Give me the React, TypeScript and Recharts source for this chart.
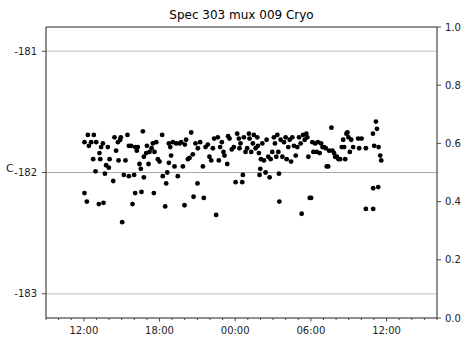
import { ScatterChart, Scatter, XAxis, YAxis, ReferenceLine } from 'recharts'

// hour since midnight of day 1 (24+ = next day), temperature in C
const EARLY: [number, number][] = [
  [12.05, -182.17], [12.24, -182.24], [12.05, -181.75], [12.32, -181.69], [12.40, -181.78],
  [12.58, -181.75], [12.79, -181.69], [12.98, -181.75], [12.74, -181.89], [12.93, -181.99],
  [13.19, -182.26], [13.56, -182.25], [13.24, -181.84], [13.30, -181.89], [13.37, -181.79],
  [13.51, -181.76], [13.67, -182.01], [13.77, -181.94], [13.90, -181.79], [14.04, -181.89],
  [13.98, -181.96], [14.33, -182.07], [14.43, -181.71], [14.56, -181.82], [14.70, -181.75],
  [14.88, -181.73], [14.75, -181.90], [14.93, -181.71], [15.04, -182.41], [15.17, -182.02],
  [15.30, -181.90], [15.46, -181.69], [15.57, -181.78], [15.57, -182.03], [15.75, -181.78],
  [15.86, -182.26], [15.99, -182.02], [16.07, -182.17], [16.07, -181.79], [16.20, -181.82],
  [16.28, -181.79], [16.41, -181.93], [16.52, -181.97], [16.57, -182.16], [16.68, -181.66],
  [16.76, -182.04], [16.76, -181.87], [16.94, -181.84], [17.00, -181.78], [17.13, -181.93],
  [17.21, -181.83], [17.37, -181.80], [17.47, -181.76], [17.55, -182.17], [17.60, -181.83],
  [17.74, -181.75], [17.87, -181.89],
]

const EVENING: [number, number][] = [
  [18.00, -181.91], [18.21, -181.69], [18.26, -182.03], [18.45, -182.28], [18.53, -182.09],
  [18.61, -182.00], [18.74, -181.92], [18.74, -181.76], [18.85, -181.79], [18.92, -181.86],
  [19.06, -181.75], [19.19, -181.95], [19.32, -181.76], [19.45, -182.03], [19.59, -181.76],
  [19.72, -181.75], [19.85, -181.95], [19.98, -182.27], [20.01, -181.77], [20.11, -181.73],
  [20.25, -181.89], [20.38, -181.88], [20.51, -181.67], [20.64, -181.85], [20.70, -182.20],
  [20.85, -181.76], [21.01, -182.09], [21.04, -181.80], [21.22, -181.75], [21.44, -181.95],
  [21.51, -182.21], [21.65, -181.79], [21.83, -181.77], [21.96, -181.87], [22.10, -181.90],
  [22.23, -181.80], [22.33, -181.72], [22.49, -182.35], [22.62, -181.71], [22.70, -181.90],
  [22.81, -181.79], [22.94, -181.75], [23.07, -181.83], [23.15, -181.86], [23.37, -181.93],
  [23.44, -181.70], [23.55, -181.72], [23.73, -181.81], [23.89, -181.79],
]

const NIGHT: [number, number][] = [
  [24.03, -182.08], [24.16, -181.68], [24.29, -181.72], [24.34, -181.80], [24.42, -181.76],
  [24.56, -182.08], [24.61, -182.02], [24.69, -181.71], [24.82, -181.83], [24.95, -181.80],
  [25.09, -181.68], [25.14, -181.72], [25.27, -181.83], [25.40, -181.76], [25.48, -181.69],
  [25.62, -181.80], [25.75, -181.71], [25.80, -181.78], [25.88, -181.84], [25.93, -182.02],
  [25.99, -181.97], [26.04, -181.89], [26.15, -181.76], [26.28, -181.90], [26.41, -182.00],
  [26.49, -181.73], [26.62, -181.87], [26.73, -182.04], [26.81, -181.89], [26.94, -181.83],
  [27.07, -181.71], [27.15, -181.76], [27.26, -181.87], [27.34, -181.69], [27.42, -181.83],
  [27.47, -182.01], [27.50, -182.24], [27.60, -181.73], [27.74, -181.87], [27.87, -181.75],
  [28.00, -181.71], [28.08, -181.89], [28.21, -181.79], [28.32, -181.73], [28.43, -181.91],
  [28.53, -181.71], [28.66, -181.78], [28.80, -181.86], [28.93, -181.79], [29.06, -181.71],
  [29.19, -181.76], [29.27, -182.34], [29.38, -181.69], [29.51, -181.73], [29.64, -181.68],
  [29.72, -181.71], [29.80, -181.87], [29.91, -182.21],
]

const MORNING: [number, number][] = [
  [30.02, -182.21], [30.12, -181.75], [30.20, -181.83], [30.34, -181.76], [30.46, -181.83],
  [30.55, -181.75], [30.70, -181.84], [30.81, -181.76], [30.92, -181.79], [31.05, -181.79],
  [31.18, -181.80], [31.26, -181.95], [31.37, -181.95], [31.45, -181.82], [31.63, -181.63],
  [31.71, -181.82], [31.84, -181.84], [31.92, -181.87], [32.06, -181.87], [32.19, -181.89],
  [32.32, -181.89], [32.45, -181.79], [32.56, -181.73], [32.64, -181.79], [32.72, -181.89],
  [32.82, -181.68], [32.90, -181.67], [32.98, -181.71], [33.09, -181.83], [33.20, -181.73],
  [33.35, -181.79], [33.75, -181.72], [33.83, -181.80], [34.02, -181.72], [34.36, -181.80],
  [34.36, -182.30], [34.92, -181.68], [34.94, -182.30], [34.94, -182.13], [35.02, -181.78],
  [35.16, -181.58], [35.24, -181.64], [35.34, -182.12], [35.37, -181.79], [35.50, -181.86],
  [35.58, -181.90],
]

const HOUR_TICKS = Array.from({ length: 32 }, (_, i) => 9 + i)
const LEFT_TICKS = [-183, -182, -181]
const RIGHT_TICKS = [0, 0.2, 0.4, 0.6, 0.8, 1.0]

const points = [...EARLY, ...EVENING, ...NIGHT, ...MORNING].map(([t, v]) => ({ t, v }))

const FONT = '"DejaVu Sans", sans-serif'
const INK = '#222'

function HourTick(props: any) {
  const { x, y, payload } = props
  const h = payload.value as number
  const major = h % 6 === 0
  const label = String(h % 24).padStart(2, '0') + ':00'
  return (
    <g>
      <line x1={x} y1={y} x2={x} y2={y + (major ? 3.5 : 2)} stroke={INK} strokeWidth={0.8} />
      {major && (
        <text x={x} y={y + 16} textAnchor="middle" fontSize={10} fontFamily={FONT} fill={INK}>
          {label}
        </text>
      )}
    </g>
  )
}

export default function App() {
  return (
    <div style={{ position: 'absolute', left: 0, top: 0, width: 466, height: 343, background: '#fff' }}>
      <ScatterChart width={466} height={343} margin={{ top: 27, right: 0, bottom: 0, left: 6 }}>
        <XAxis
          dataKey="t"
          type="number"
          domain={[9, 40]}
          ticks={HOUR_TICKS}
          interval={0}
          tick={<HourTick />}
          tickSize={0}
          tickMargin={0}
          tickLine={false}
          height={25}
          axisLine={{ stroke: INK, strokeWidth: 1 }}
        />
        <YAxis
          yAxisId="left"
          dataKey="v"
          type="number"
          domain={[-183.2, -180.8]}
          ticks={LEFT_TICKS}
          interval={0}
          width={40}
          tickSize={4}
          tickMargin={5}
          tickLine={{ stroke: INK, strokeWidth: 0.8 }}
          axisLine={{ stroke: INK, strokeWidth: 1 }}
          tick={{ fontSize: 10, fontFamily: FONT, fill: INK }}
          allowDataOverflow
        />
        <YAxis
          yAxisId="right"
          orientation="right"
          type="number"
          domain={[0, 1]}
          ticks={RIGHT_TICKS}
          interval={0}
          width={29}
          tickSize={4}
          tickMargin={4}
          tickFormatter={(v: number) => v.toFixed(1)}
          tickLine={{ stroke: INK, strokeWidth: 0.8 }}
          axisLine={{ stroke: INK, strokeWidth: 1 }}
          tick={{ fontSize: 10, fontFamily: FONT, fill: INK, textAnchor: 'start' }}
          allowDataOverflow
        />
        <ReferenceLine yAxisId="left" y={-181} stroke="#d6d6d6" strokeWidth={1.6} />
        <ReferenceLine yAxisId="left" y={-183} stroke="#d6d6d6" strokeWidth={1.6} />
        <ReferenceLine yAxisId="left" y={-182} stroke="#a8a8a8" strokeWidth={1} />
        <ReferenceLine yAxisId="left" y={-180.8} stroke={INK} strokeWidth={1} />
        <Scatter
          yAxisId="left"
          data={points}
          isAnimationActive={false}
          shape={(p: any) => <circle cx={p.cx} cy={p.cy} r={2.4} fill="#000" />}
        />
      </ScatterChart>
      <svg width={466} height={343} style={{ position: 'absolute', left: 0, top: 0, pointerEvents: 'none' }}>
        <text x={241.5} y={19} textAnchor="middle" fontSize={12} fontFamily={FONT} fill="#000">
          Spec 303 mux 009 Cryo
        </text>
        <text x={6} y={172} fontSize={11} fontFamily={FONT} fill={INK}>
          C
        </text>
      </svg>
    </div>
  )
}
